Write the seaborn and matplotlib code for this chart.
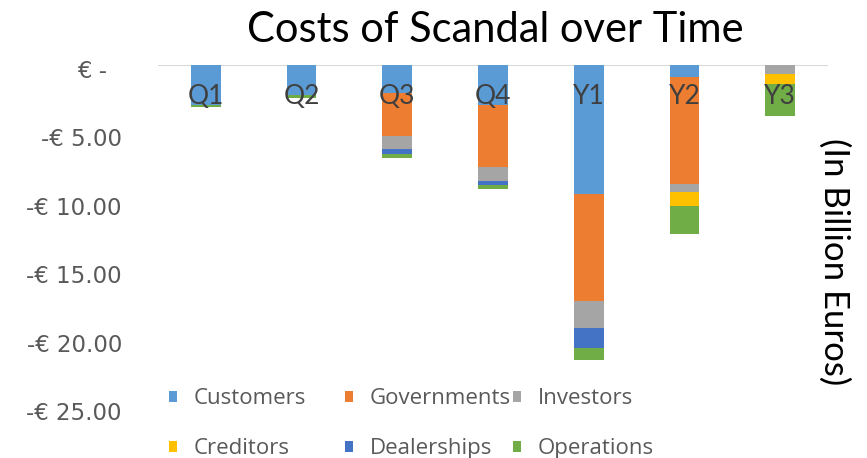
import numpy as np
import pandas as pd
import matplotlib
matplotlib.use("Agg")
import matplotlib.pyplot as plt
from matplotlib.patches import Patch
from matplotlib.ticker import FixedLocator, FuncFormatter
from matplotlib.transforms import ScaledTranslation
import seaborn as sns

# Costs per period, in billion euros (negative = cost)
periods = ["Q1", "Q2", "Q3", "Q4", "Y1", "Y2", "Y3"]
customers = [-2.9, -2.2, -2.05, -2.9, -9.4, -0.85, 0.0]
governments = [0.0, 0.0, -3.15, -4.55, -7.8, -7.8, 0.0]
investors = [0.0, 0.0, -0.95, -1.0, -2.0, -0.6, -0.65]
creditors = [0.0, 0.0, 0.0, 0.0, 0.0, -1.0, -0.7]
dealerships = [0.0, 0.0, -0.35, -0.3, -1.4, 0.0, 0.0]
operations = [-0.15, -0.2, -0.3, -0.3, -0.9, -2.1, -2.4]

series_names = ["Customers", "Governments", "Investors",
                "Creditors", "Dealerships", "Operations"]
series_values = [customers, governments, investors,
                 creditors, dealerships, operations]
series_colors = ["#5B9BD5", "#ED7D31", "#A5A5A5",
                 "#FFC000", "#4472C4", "#70AD47"]

sns.set_theme(style="white")
plt.rcParams["font.family"] = ["Open Sans", "DejaVu Sans"]

fig = plt.figure(figsize=(8.67, 4.58), dpi=100)
ax = fig.add_axes([158 / 867, 1 - 408 / 458, (828 - 158) / 867, (408 - 65) / 458])

# Stacked bars: draw running totals from the deepest layer up,
# so each shallower layer paints over the previous one.
df = pd.DataFrame({"period": periods})
running = np.cumsum(np.array(series_values), axis=0)
for i in range(len(series_names) - 1, -1, -1):
    df["total"] = running[i]
    sns.barplot(data=df, x="period", y="total", order=periods,
                color=series_colors[i], width=0.31, linewidth=0,
                saturation=1, errorbar=None, ax=ax)

ax.set_xlim(-0.5, len(periods) - 0.5)
ax.set_ylim(-25, 0)
ax.axhline(0, color="#D9D9D9", lw=1.5, zorder=0.5)
for s in ax.spines.values():
    s.set_visible(False)
ax.set_xlabel("")
ax.set_ylabel("")

# Y axis: accounting-style euro labels
yticks = [0, -5, -10, -15, -20, -25]
ax.yaxis.set_major_locator(FixedLocator(yticks))
ax.yaxis.set_major_formatter(FuncFormatter(
    lambda v, p: "€ -  " if v == 0 else f"-€ {abs(v):.2f}"))
ax.tick_params(axis="y", length=0, pad=26, labelsize=16.5, labelcolor="#595959")
shift_down = ScaledTranslation(0, -3.5 / 100, fig.dpi_scale_trans)
for t in ax.get_yticklabels():
    t.set_fontfamily(["DejaVu Sans"])
    t.set_transform(t.get_transform() + shift_down)

# Category labels sit just under the zero line, above the bars
ax.xaxis.set_ticks_position("top")
ax.xaxis.set_label_position("top")
ax.xaxis.set_zorder(5)
ax.tick_params(axis="x", length=0, pad=-32, labelsize=19,
               labelcolor="#3F3F3F", labeltop=True, labelbottom=False)
for t in ax.get_xticklabels():
    t.set_fontfamily(["Lato", "DejaVu Sans"])

fig.text(495 / 867, 1 - 30 / 458, "Costs of Scandal over Time",
         ha="center", va="center", fontsize=30, color="#000000",
         family=["Lato", "DejaVu Sans"])
fig.text(834 / 867, 1 - 262 / 458, "(In Billion Euros)",
         ha="center", va="center", rotation=-90, fontsize=25,
         color="#000000", family=["Lato", "DejaVu Sans"])

# Legend laid out as three columns of two entries
columns = [[0, 3], [1, 4], [2, 5]]
col_x = [169, 345, 513]
for cx, idx in zip(col_x, columns):
    handles = [Patch(facecolor=series_colors[k], edgecolor="none") for k in idx]
    labels = [series_names[k] for k in idx]
    fig.legend(handles, labels, loc="upper left",
               bbox_to_anchor=(cx / 867, 1 - 388 / 458),
               frameon=False, fontsize=16, labelcolor="#595959",
               handlelength=0.38, handleheight=0.38, handletextpad=0.75,
               labelspacing=1.32, borderpad=0, borderaxespad=0)

fig.savefig("out.png", dpi=100, facecolor="white")
